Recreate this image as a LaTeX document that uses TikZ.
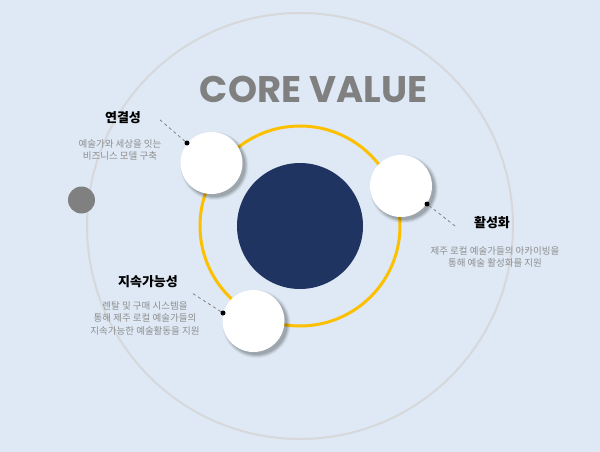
\documentclass[tikz,border=0pt]{standalone}
\usepackage{fontspec}
\setmainfont{Poppins}
\newfontfamily\kr{Noto Sans CJK KR}
\newfontfamily\titlefont{Poppins}
\definecolor{bg}{HTML}{DEE9F5}
\definecolor{ringgray}{HTML}{D6D8DB}
\definecolor{gold}{HTML}{FDC000}
\definecolor{navy}{HTML}{1F3461}
\definecolor{midgray}{HTML}{808080}
\definecolor{txtgray}{HTML}{8E8E8E}
\tikzset{
  whitedisc/.style={circle, fill=white, minimum size=62pt, inner sep=0pt},
  anchordot/.style={circle, fill=black, minimum size=5pt, inner sep=0pt},
  leader/.style={midgray, dashed, dash pattern=on 3pt off 3pt, line width=0.8pt},
  heading/.style={font=\kr\bfseries\fontsize{13}{15}\selectfont, text=black},
  desc/.style={font=\kr\fontsize{9.5}{12.5}\selectfont, text=txtgray, align=center},
}
\newcommand{\softshadow}[1]{%
  \foreach \r/\o in {34/0.05,33/0.07,32/0.09,31/0.11}{
    \fill[black, opacity=\o] ($(#1)+(3,3)$) circle (\r);
  }%
}
\usetikzlibrary{calc}
\begin{document}
\begin{tikzpicture}[x=1pt,y=-1pt]
  \fill[bg] (0,0) rectangle (600,452);
  \useasboundingbox (0,0) rectangle (600,452);

  % outer ring and small marker
  \coordinate (center) at (300,226);
  \draw[ringgray, line width=2pt] (center) circle (213);
  \node[circle, fill=midgray, minimum size=27pt, inner sep=0pt] (marker) at (81.5,200) {};

  % orbit and core
  \draw[gold, line width=3pt] (center) circle (100);
  \node[circle, fill=navy, minimum size=126pt, inner sep=0pt] (core) at (center) {};

  % title
  \node[font=\titlefont\bfseries\fontsize{37}{38}\selectfont, text=midgray] (title) at (313.5,89) {CORE VALUE};

  % satellites with shadows
  \coordinate (c1) at (211.5,163);
  \coordinate (c2) at (401,186);
  \coordinate (c3) at (253.5,321);
  \softshadow{c1}
  \softshadow{c2}
  \softshadow{c3}
  \node[whitedisc] (s1) at (c1) {};
  \node[whitedisc] (s2) at (c2) {};
  \node[whitedisc] (s3) at (c3) {};

  % anchor dots and leader lines
  \node[anchordot] (d1) at (187,143) {};
  \node[anchordot] (d2) at (427,204) {};
  \node[anchordot] (d3) at (223,313) {};
  \coordinate (e1) at (159,119);
  \coordinate (e2) at (455,226);
  \coordinate (e3) at (192,293);
  \draw[leader] (d1) -- (e1);
  \draw[leader] (d2) -- (e2);
  \draw[leader] (d3) -- (e3);

  % labels
  \node[heading] (h1) at (123,118) {연결성};
  \node[desc] (t1) at (120,150) {예술가와 세상을 잇는\\비즈니스 모델 구축};
  \node[heading] (h2) at (492,223) {활성화};
  \node[desc] (t2) at (495,257) {제주 로컬 예술가들의 아카이빙을\\통해 예술 활성화를 지원};
  \node[heading] (h3) at (148,282) {지속가능성};
  \node[desc] (t3) at (145,318) {렌탈 및 구매 시스템을\\통해 제주 로컬 예술가들의\\지속가능한 예술활동을 지원};
\end{tikzpicture}
\end{document}
